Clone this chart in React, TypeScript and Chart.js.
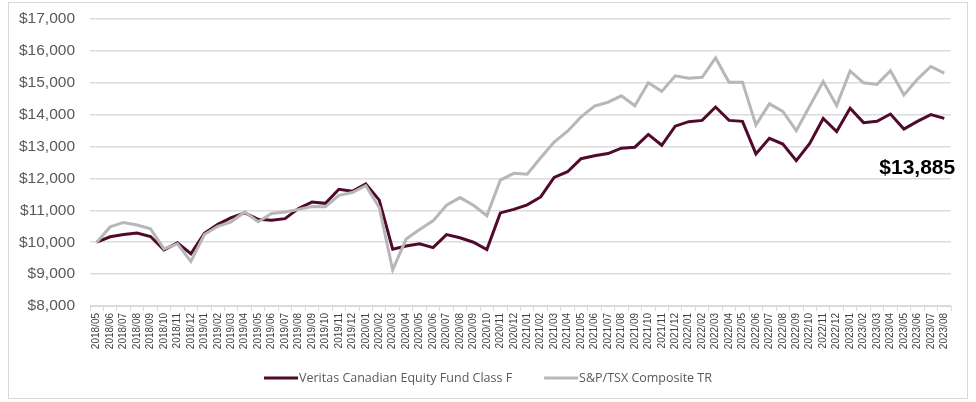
import React, { useEffect, useRef } from "react";
import { Chart, registerables } from "chart.js";

Chart.register(...registerables);

const categories = [
  "2018/05", "2018/06", "2018/07", "2018/08", "2018/09", "2018/10", "2018/11", "2018/12",
  "2019/01", "2019/02", "2019/03", "2019/04", "2019/05", "2019/06", "2019/07", "2019/08",
  "2019/09", "2019/10", "2019/11", "2019/12", "2020/01", "2020/02", "2020/03", "2020/04",
  "2020/05", "2020/06", "2020/07", "2020/08", "2020/09", "2020/10", "2020/11", "2020/12",
  "2021/01", "2021/02", "2021/03", "2021/04", "2021/05", "2021/06", "2021/07", "2021/08",
  "2021/09", "2021/10", "2021/11", "2021/12", "2022/01", "2022/02", "2022/03", "2022/04",
  "2022/05", "2022/06", "2022/07", "2022/08", "2022/09", "2022/10", "2022/11", "2022/12",
  "2023/01", "2023/02", "2023/03", "2023/04", "2023/05", "2023/06", "2023/07", "2023/08",
];

const fundValues = [
  10000, 10170, 10240, 10290, 10180, 9760, 9980, 9640,
  10280, 10560, 10770, 10920, 10720, 10690, 10740, 11060,
  11260, 11220, 11660, 11600, 11830, 11320, 9780, 9880,
  9950, 9830, 10240, 10140, 10000, 9770, 10920, 11030,
  11170, 11420, 12030, 12210, 12620, 12710, 12780, 12950,
  12980, 13380, 13040, 13640, 13780, 13820, 14240, 13820,
  13790, 12770, 13260, 13080, 12560, 13100, 13880, 13470,
  14200, 13750, 13790, 14020, 13550, 13790, 14000, 13885,
];

const indexValues = [
  10000, 10480, 10620, 10540, 10420, 9790, 9950, 9400,
  10240, 10500, 10640, 10950, 10640, 10900, 10950, 11030,
  11120, 11110, 11470, 11560, 11770, 11090, 9130, 10100,
  10400, 10670, 11160, 11400, 11160, 10830, 11950, 12160,
  12130, 12650, 13140, 13480, 13930, 14270, 14390, 14590,
  14280, 15000, 14730, 15220, 15140, 15170, 15780, 15020,
  15020, 13680, 14340, 14100, 13500, 14270, 15040, 14290,
  15370, 15000, 14950, 15380, 14620, 15110, 15510, 15300,
];

const seriesNames = ["Veritas Canadian Equity Fund Class F", "S&P/TSX Composite TR"];
const yAxisRange = [8000, 17000];
const yAxisStep = [1000];
const endValueLabel = ["$13,885"];

const FUND_COLOR = "#4f0a2c";
const INDEX_COLOR = "#b7b7b7";

const endLabelPlugin = {
  id: "endLabel",
  afterDatasetsDraw(chart: any) {
    const meta = chart.getDatasetMeta(0);
    const pt = meta.data[meta.data.length - 1];
    if (!pt) return;
    const ctx = chart.ctx;
    ctx.save();
    ctx.font = 'bold 21px "Liberation Sans", Arial, sans-serif';
    ctx.fillStyle = "#000000";
    ctx.textAlign = "center";
    ctx.textBaseline = "middle";
    ctx.fillText(endValueLabel[0], pt.x - 27, pt.y + 50);
    ctx.restore();
  },
};

const customLegendPlugin = {
  id: "customLegend",
  afterDraw(chart: any) {
    const ctx = chart.ctx;
    ctx.save();
    ctx.font = '12.5px "Open Sans", sans-serif';
    const lineLen = 34;
    const textGap = 1;
    const itemGap = 32;
    const items = chart.data.datasets.map((d: any) => ({
      label: d.label,
      color: d.borderColor,
      w: lineLen + textGap + ctx.measureText(d.label).width,
    }));
    const total = items.reduce((a: number, it: any) => a + it.w, 0) + itemGap * (items.length - 1);
    let x = chart.width / 2 - total / 2;
    const y = 375;
    items.forEach((it: any) => {
      ctx.strokeStyle = it.color;
      ctx.lineWidth = 3;
      ctx.beginPath();
      ctx.moveTo(x, y);
      ctx.lineTo(x + lineLen, y);
      ctx.stroke();
      ctx.fillStyle = "#595959";
      ctx.textAlign = "left";
      ctx.textBaseline = "middle";
      ctx.fillText(it.label, x + lineLen + textGap, y);
      x += it.w + itemGap;
    });
    ctx.restore();
  },
};

export default function App() {
  const canvasRef = useRef<HTMLCanvasElement | null>(null);

  useEffect(() => {
    if (!canvasRef.current) return;
    const chart = new Chart(canvasRef.current, {
      type: "line",
      data: {
        labels: categories,
        datasets: [
          {
            label: seriesNames[0],
            data: fundValues,
            borderColor: FUND_COLOR,
            backgroundColor: FUND_COLOR,
            borderWidth: 3,
            pointRadius: 0,
            tension: 0,
            order: 1,
          },
          {
            label: seriesNames[1],
            data: indexValues,
            borderColor: INDEX_COLOR,
            backgroundColor: INDEX_COLOR,
            borderWidth: 3,
            pointRadius: 0,
            tension: 0,
            order: 0,
          },
        ],
      },
      options: {
        animation: false,
        responsive: false,
        maintainAspectRatio: false,
        layout: { padding: { top: 16, right: 16, left: 0, bottom: 32 } },
        plugins: {
          legend: { display: false },
          title: { display: false },
          tooltip: { enabled: false },
        },
        scales: {
          x: {
            type: "category",
            offset: true,
            afterFit: (s: any) => {
              s.height = 60;
              s.paddingLeft = 0;
              s.paddingRight = 0;
              s.paddingTop = 0;
              s.paddingBottom = 0;
            },
            grid: {
              offset: true,
              drawOnChartArea: false,
              drawTicks: true,
              tickLength: 5,
              color: "#d9d9d9",
              lineWidth: 1,
            },
            border: { display: true, color: "#d9d9d9", width: 1 },
            ticks: {
              autoSkip: false,
              minRotation: 90,
              maxRotation: 90,
              padding: 2,
              color: "#404040",
              font: { family: '"Liberation Sans", Arial, sans-serif', size: 10 },
            },
          },
          y: {
            min: yAxisRange[0],
            max: yAxisRange[1],
            afterFit: (s: any) => {
              s.width = 81;
              s.paddingTop = 0;
              s.paddingBottom = 0;
              s.paddingLeft = 0;
              s.paddingRight = 0;
            },
            grid: {
              drawTicks: false,
              color: "#dcdcdc",
              lineWidth: 1.5,
            },
            border: { display: false },
            ticks: {
              stepSize: yAxisStep[0],
              padding: 15,
              color: "#595959",
              font: { family: '"Liberation Sans", Arial, sans-serif', size: 15.5 },
              callback: (v: any) => "$" + Number(v).toLocaleString("en-US"),
            },
          },
        },
      },
      plugins: [endLabelPlugin, customLegendPlugin],
    });
    return () => chart.destroy();
  }, []);

  return (
    <div
      style={{
        position: "absolute",
        left: 8,
        top: 2,
        width: 960,
        height: 397,
        border: "1px solid #d9d9d9",
        boxSizing: "border-box",
        background: "#ffffff",
      }}
    >
      <canvas ref={canvasRef} width={958} height={395} style={{ display: "block" }} />
    </div>
  );
}
